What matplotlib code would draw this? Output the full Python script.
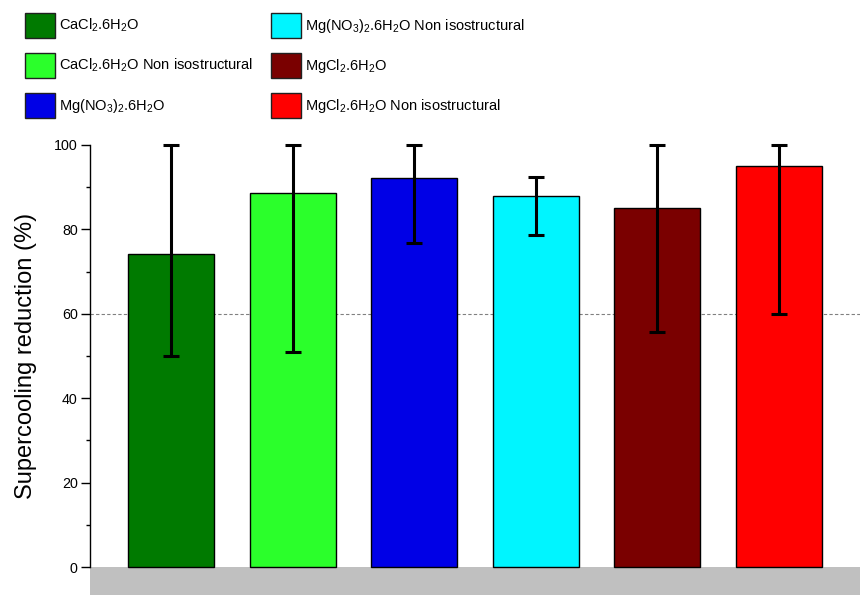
import matplotlib
matplotlib.use("Agg")
import matplotlib.pyplot as plt
from matplotlib.patches import Patch

plt.rcParams['font.family'] = ['Liberation Sans', 'DejaVu Sans']
plt.rcParams['mathtext.default'] = 'regular'

labels = [r"CaCl$_2$.6H$_2$O", r"CaCl$_2$.6H$_2$O Non isostructural",
          r"Mg(NO$_3$)$_2$.6H$_2$O", r"Mg(NO$_3$)$_2$.6H$_2$O Non isostructural",
          r"MgCl$_2$.6H$_2$O", r"MgCl$_2$.6H$_2$O Non isostructural"]
values = [74.2, 88.6, 92.2, 87.9, 85.1, 95.0]
err_low = [50.0, 51.0, 76.8, 78.7, 55.7, 60.0]
err_high = [100.0, 100.0, 100.0, 92.4, 100.0, 100.0]
colors = ['#007A00', '#2BFF2B', '#0000E6', '#00F5FF', '#7A0000', '#FF0000']
yticks = [0, 20, 40, 60, 80, 100]
ref_line = 60

W, H = 863, 595
fig = plt.figure(figsize=(W/100, H/100), dpi=100)
ax = fig.add_axes([90/W, 0, (860-90)/W, 1-145/H])

x = list(range(len(values)))
yerr = [[v - lo for v, lo in zip(values, err_low)],
        [hi - v for v, hi in zip(values, err_high)]]

ax.axhspan(-6.6, 0, color='#c0c0c0', zorder=0, lw=0)
ax.axhline(ref_line, color='#808080', ls=(0, (3, 2)), lw=0.8, zorder=1)
bars = ax.bar(x, values, width=0.71, color=colors, edgecolor='black', lw=1.0, zorder=2)
eb = ax.errorbar(x, values, yerr=yerr, fmt='none', ecolor='black', elinewidth=2.2,
                 capsize=5.5, capthick=2.2, zorder=3)
for art in eb.lines[1] + tuple(eb.lines[2]):
    art.set_clip_on(False)

ax.set_xlim(-0.67, 5.67)
ax.set_ylim(-6.6, 100)
for s in ['top', 'right', 'bottom']:
    ax.spines[s].set_visible(False)
ax.spines['left'].set_bounds(0, 100)
ax.spines['left'].set_linewidth(1.0)
ax.set_xticks([])
ax.set_yticks(yticks)
ax.set_yticks([10, 30, 50, 70, 90], minor=True)
ax.tick_params(axis='y', which='major', length=6.3, width=1, labelsize=10.3, pad=2.5)
ax.tick_params(axis='y', which='minor', length=2.8, width=1)
ax.set_ylabel("Supercooling reduction (%)", fontsize=17)
ax.yaxis.set_label_coords(-0.069, (50+6.6)/106.6)

handles = [Patch(facecolor=c, edgecolor='#202020', lw=1.0) for c in colors]
fs = 10.5
fig.legend(handles, labels, loc='upper left', bbox_to_anchor=(25/W, 1-13/H),
           ncol=2, frameon=False, fontsize=fs, borderpad=0, borderaxespad=0,
           handlelength=2.05, handleheight=2.26, handletextpad=0.3,
           labelspacing=1.03, columnspacing=1.2)

fig.savefig("out.png", dpi=100)
